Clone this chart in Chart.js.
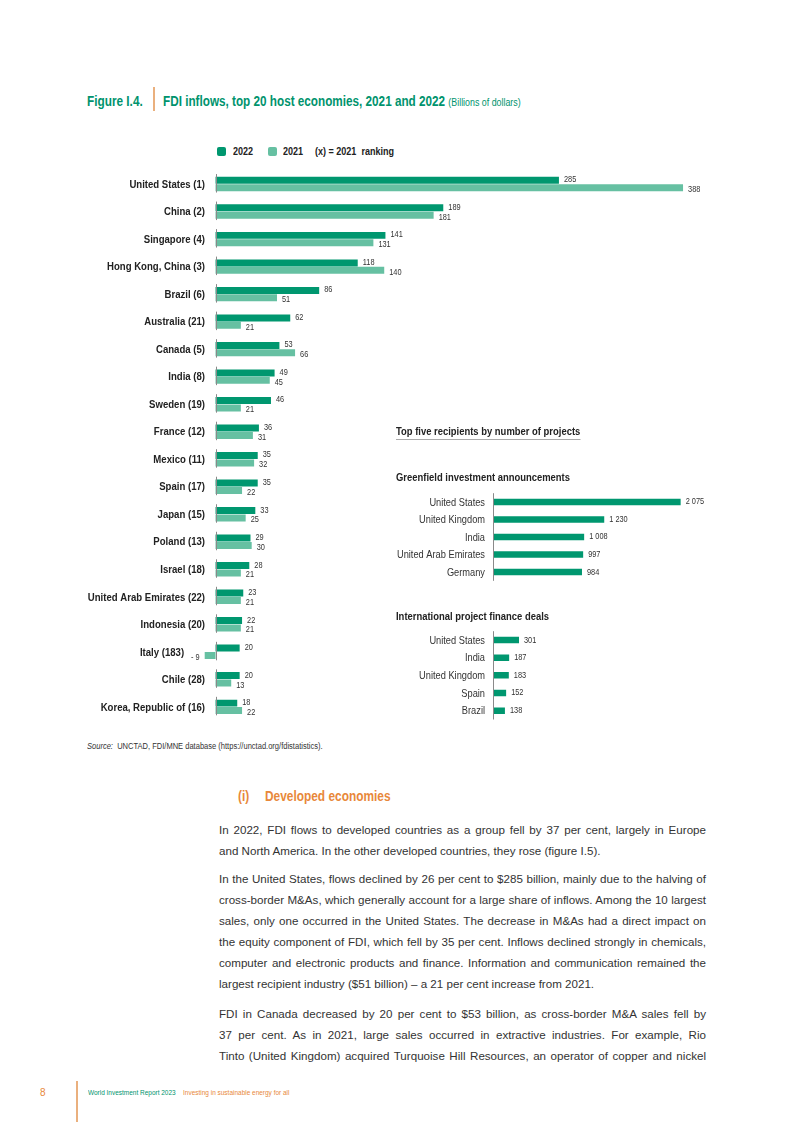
<!DOCTYPE html>
<html>
<head>
<meta charset="utf-8">
<title>FDI inflows, top 20 host economies</title>
<script src="https://cdn.jsdelivr.net/npm/chart.js@4.4.1/dist/chart.umd.min.js"></script>
<style>
  body { margin: 0; background: #fff; }
  #page {
    position: relative; width: 793px; height: 1122px; overflow: hidden;
    font-family: "Liberation Sans", Arial, sans-serif; color: #222;
  }
  .abs { position: absolute; white-space: nowrap; }
  /* no Arial Narrow here, so squeeze Liberation Sans instead */
  .nar { transform: scaleX(0.82); transform-origin: left center; }
  .teal { color: #00936d; }
  .orange { color: #e8883a; }
  canvas { position: absolute; }
  .legendBox { position: absolute; width: 9px; height: 9px; border-radius: 2px; }
  .para { position: absolute; left: 219px; width: 487px;
    font-size: 11.6px; line-height: 16px; color: #333; white-space: nowrap;
    text-align: justify; text-align-last: justify; }
  .para.last { text-align-last: left; }
</style>
</head>
<body>
<div id="page">
  <!-- figure title -->
  <div class="abs nar teal" style="left:87px; top:92px; font-size:14.4px; font-weight:bold; line-height:18px;">Figure I.4.</div>
  <div class="abs" style="left:153px; top:87px; width:1.5px; height:24px; background:#eab07e;"></div>
  <div class="abs nar teal" style="left:163px; top:92px; font-size:14.3px; font-weight:bold; line-height:18px;">FDI inflows, top 20 host economies, 2021 and 2022 <span style="font-size:10.8px; font-weight:normal;">(Billions of dollars)</span></div>

  <!-- legend -->
  <div class="legendBox" style="left:217px; top:147px; background:#00976f;"></div>
  <div class="abs nar" style="left:233px; top:145px; font-size:11px; font-weight:bold; line-height:13px;">2022</div>
  <div class="legendBox" style="left:268px; top:147px; background:#66c0a2;"></div>
  <div class="abs nar" style="left:283px; top:145px; font-size:11px; font-weight:bold; line-height:13px;">2021</div>
  <div class="abs nar" style="left:315px; top:145px; font-size:11px; font-weight:bold; line-height:13px;">(x) = 2021&nbsp; ranking</div>

  <canvas id="mainChart" width="640" height="560" style="left:80px; top:168px;"></canvas>

  <!-- inset -->
  <div class="abs nar" style="left:396px; top:425px; font-size:11.5px; font-weight:bold; line-height:13px; border-bottom:1px solid #aaa; padding-bottom:1px;">Top five recipients by number of projects</div>
  <div class="abs nar" style="left:396px; top:471px; font-size:11.5px; font-weight:bold; line-height:13px;">Greenfield investment announcements</div>
  <canvas id="greenfieldChart" width="330" height="95" style="left:385px; top:490px;"></canvas>
  <div class="abs nar" style="left:396px; top:610px; font-size:11.5px; font-weight:bold; line-height:13px;">International project finance deals</div>
  <canvas id="financeChart" width="330" height="98" style="left:385px; top:630px;"></canvas>

  <div class="abs nar" style="left:87px; top:740px; font-size:9.2px; line-height:12px; color:#333;"><i>Source:</i>&nbsp; UNCTAD, FDI/MNE database (https://unctad.org/fdistatistics).</div>

  <!-- text -->
  <div class="abs nar orange" style="left:238px; top:787px; font-size:14.5px; font-weight:bold; line-height:18px;">(i)</div>
  <div class="abs nar orange" style="left:265px; top:787px; font-size:14.5px; font-weight:bold; line-height:18px;">Developed economies</div>

  <div class="para" style="top:822px;">In 2022, FDI flows to developed countries as a group fell by 37 per cent, largely in Europe</div>
  <div class="para last" style="top:843px;">and North America. In the other developed countries, they rose (figure I.5).</div>

  <div class="para" style="top:871px;">In the United States, flows declined by 26 per cent to $285 billion, mainly due to the halving of</div>
  <div class="para" style="top:892px;">cross-border M&amp;As, which generally account for a large share of inflows. Among the 10 largest</div>
  <div class="para" style="top:913px;">sales, only one occurred in the United States. The decrease in M&amp;As had a direct impact on</div>
  <div class="para" style="top:934px;">the equity component of FDI, which fell by 35 per cent. Inflows declined strongly in chemicals,</div>
  <div class="para" style="top:955px;">computer and electronic products and finance. Information and communication remained the</div>
  <div class="para last" style="top:976px;">largest recipient industry ($51 billion) – a 21 per cent increase from 2021.</div>

  <div class="para" style="top:1006px;">FDI in Canada decreased by 20 per cent to $53 billion, as cross-border M&amp;A sales fell by</div>
  <div class="para" style="top:1027px;">37 per cent. As in 2021, large sales occurred in extractive industries. For example, Rio</div>
  <div class="para" style="top:1048px;">Tinto (United Kingdom) acquired Turquoise Hill Resources, an operator of copper and nickel</div>

  <!-- footer -->
  <div class="abs orange" style="left:40px; top:1087px; font-size:10px; line-height:12px;">8</div>
  <div class="abs" style="left:76px; top:1081px; width:1.5px; height:41px; background:#eab07e;"></div>
  <div class="abs nar teal" style="left:88px; top:1087px; font-size:7.9px; line-height:12px;">World Investment Report 2023</div>
  <div class="abs nar orange" style="left:183px; top:1087px; font-size:7.9px; line-height:12px;">Investing in sustainable energy for all</div>
</div>

<script>
const economies = [
  "United States (1)", "China (2)", "Singapore (4)", "Hong Kong, China (3)", "Brazil (6)",
  "Australia (21)", "Canada (5)", "India (8)", "Sweden (19)", "France (12)",
  "Mexico (11)", "Spain (17)", "Japan (15)", "Poland (13)", "Israel (18)",
  "United Arab Emirates (22)", "Indonesia (20)", "Italy (183)", "Chile (28)", "Korea, Republic of (16)"
];
const inflows2022 = [285, 189, 141, 118, 86, 62, 53, 49, 46, 36, 35, 35, 33, 29, 28, 23, 22, 20, 20, 18];
const inflows2021 = [388, 181, 131, 140, 51, 21, 66, 45, 21, 31, 32, 22, 25, 30, 21, 21, 21, -9, 13, 22];

const greenfieldCountries = ["United States", "United Kingdom", "India", "United Arab Emirates", "Germany"];
const greenfieldProjects = [2075, 1230, 1008, 997, 984];

const financeCountries = ["United States", "India", "United Kingdom", "Spain", "Brazil"];
const financeDeals = [301, 187, 183, 152, 138];

const color2022 = "#00976f",
  color2021 = "#66c0a2",
  fontName = '"Liberation Sans", Arial, sans-serif',
  squeeze = 0.82;

Chart.defaults.font.family = fontName;
Chart.defaults.animation = false;

const fmt = (v) => {
  if (v < 0) return `- ${Math.abs(v)}`;
  return String(v).replace(/\B(?=(\d{3})+(?!\d))/g, " ");
};

// canvas version of the narrow font
const drawNarrow = (ctx, text, x, y, align) => {
  ctx.save();
  ctx.scale(squeeze, 1);
  ctx.textAlign = align;
  ctx.fillText(text, x / squeeze, y);
  ctx.restore();
};

// numbers at the end of each bar
const barLabels = {
  id: "barLabels",
  afterDatasetsDraw(chart, args, opts) {
    const { ctx } = chart;
    ctx.save();
    ctx.font = opts.font;
    ctx.fillStyle = opts.color;
    ctx.textBaseline = "middle";
    chart.data.datasets.forEach((ds, i) => {
      const dy = opts.shift ? opts.shift[i] : 0;
      chart.getDatasetMeta(i).data.forEach((bar, j) => {
        const v = ds.data[j];
        if (v < 0) drawNarrow(ctx, fmt(v), bar.x - opts.gap, bar.y + dy, "right");
        else drawNarrow(ctx, fmt(v), bar.x + opts.gap, bar.y + dy, "left");
      });
    });
    ctx.restore();
  },
};

// category names and the vertical axis
const nameLabels = {
  id: "nameLabels",
  afterDatasetsDraw(chart, args, opts) {
    const { ctx, chartArea } = chart;
    const xs = chart.scales.x, ys = chart.scales.y;
    const x0 = Math.round(xs.getPixelForValue(0)) + 0.5;
    ctx.save();
    ctx.strokeStyle = opts.axisColor;
    ctx.lineWidth = 1;
    if (!opts.segments) {
      ctx.beginPath();
      ctx.moveTo(x0, chartArea.top);
      ctx.lineTo(x0, chartArea.bottom);
      ctx.stroke();
    }
    chart.data.labels.forEach((label, j) => {
      const yc = ys.getPixelForValue(j);
      if (opts.segments) {
        ctx.beginPath();
        ctx.moveTo(x0, yc - 10);
        ctx.lineTo(x0, yc + 8.5);
        ctx.stroke();
      }
      // a negative bar pushes the name further left
      let right = x0 - opts.gap;
      chart.data.datasets.forEach((ds, i) => {
        const v = ds.data[j];
        if (v < 0) {
          const bar = chart.getDatasetMeta(i).data[j];
          ctx.font = opts.valueFont;
          right = Math.min(right, bar.x - opts.valueGap - ctx.measureText(fmt(v)).width * squeeze - 7);
        }
      });
      ctx.font = opts.font;
      ctx.fillStyle = opts.color;
      ctx.textBaseline = "middle";
      drawNarrow(ctx, label, right, yc + 0.5, "right");
    });
    ctx.restore();
  },
};

new Chart(document.getElementById("mainChart"), {
  type: "bar",
  data: {
    labels: economies,
    datasets: [
      { label: "2022", data: inflows2022, backgroundColor: color2022 },
      { label: "2021", data: inflows2021, backgroundColor: color2021 },
    ],
  },
  options: {
    indexAxis: "y",
    responsive: false,
    categoryPercentage: 0.54,
    barPercentage: 0.94,
    layout: { padding: { left: 123.5, right: 22.5, top: 2.3, bottom: 7.4 } },
    scales: {
      x: { display: false, min: -10, max: 400 },
      y: { display: false },
    },
    plugins: {
      legend: { display: false },
      tooltip: { enabled: false },
      barLabels: { font: `9px ${fontName}`, color: "#333", gap: 5, shift: [-0.5, 2] },
      nameLabels: {
        font: `bold 11.7px ${fontName}`, color: "#222", gap: 11.5, axisColor: "#8a8a8a",
        segments: true, valueFont: `9px ${fontName}`, valueGap: 5,
      },
    },
  },
  plugins: [barLabels, nameLabels],
});

const makeInset = (id, labels, values, max, pad) => {
  new Chart(document.getElementById(id), {
    type: "bar",
    data: {
      labels: labels,
      datasets: [{ data: values, backgroundColor: color2022 }],
    },
    options: {
      indexAxis: "y",
      responsive: false,
      categoryPercentage: 1,
      barPercentage: 0.37,
      layout: { padding: pad },
      scales: {
        x: { display: false, min: 0, max: max },
        y: { display: false },
      },
      plugins: {
        legend: { display: false },
        tooltip: { enabled: false },
        barLabels: { font: `9px ${fontName}`, color: "#333", gap: 5 },
        nameLabels: { font: `11.3px ${fontName}`, color: "#333", gap: 8.5, axisColor: "#8a8a8a", segments: false },
      },
    },
    plugins: [barLabels, nameLabels],
  });
};

makeInset("greenfieldChart", greenfieldCountries, greenfieldProjects, 2300, { left: 108, top: 3.2, bottom: 4.2, right: 14 });
makeInset("financeChart", financeCountries, financeDeals, 2400, { left: 108, top: 1.2, bottom: 8.5, right: 14.6 });
</script>
</body>
</html>
